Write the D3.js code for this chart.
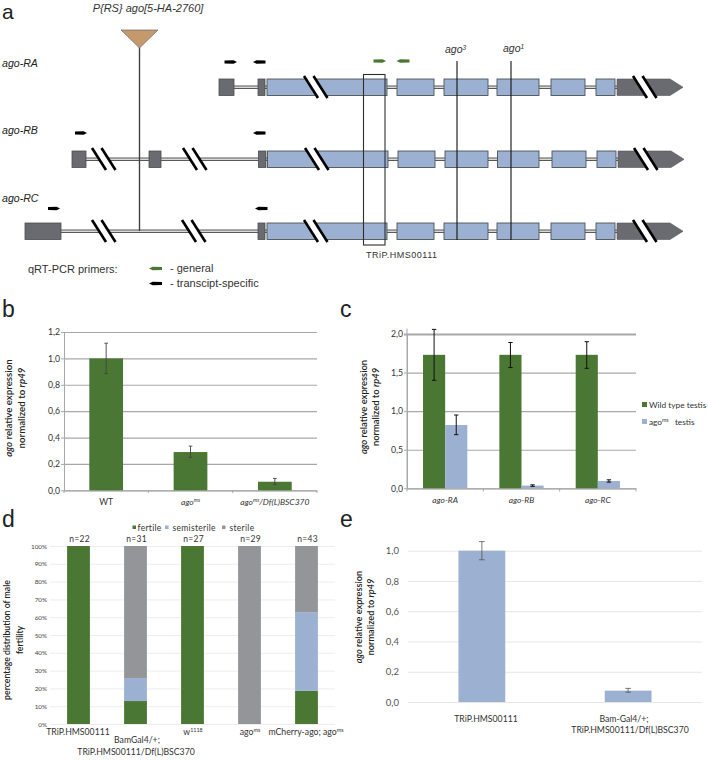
<!DOCTYPE html>
<html><head><meta charset="utf-8">
<script src="https://cdn.jsdelivr.net/npm/d3@7/dist/d3.min.js"></script>
<style>html,body{margin:0;padding:0;background:#fff}svg{display:block}text{font-family:Lato,"Open Sans",sans-serif}</style>
</head><body><svg id="c" width="708" height="760"></svg>
<script>
// ---------- data ----------
const green="#4a7834", blue="#9cb0d2", gray="#939598", exonGray="#6a6b70";
// gene model: exon extents along the diagram axis
const blueExonsA=[[267,387],[397,434],[444,488],[497,539],[551,585],[596,615]];
const blueExonsB=[[267.5,388],[398,435],[445,488],[497.5,539],[552,586],[597,616]];
const greyExonsA=[[219,234],[258,265]];
const greyExonsB=[[72,86],[149,161],[258.5,266]];
const greyExonsC=[[25,61],[258,265]];
const utrA=[617,670,683], utrB=[618,671,684];
const breaksA=[304,633], breaksB=[92,183,305,634], breaksC=[92,182,304,633];
const transcripts=["ago-RA","ago-RB","ago-RC"];
const ago3Pos=457, ago1Pos=511, insertPos=139.5, tripRange=[363.5,385];
const primersBlack=[[224.5,237,0,1],[253,265.5,0,-1],[75,87,1,1],[253,265.5,1,-1],[48,60,2,1],[255,267.5,2,-1]];
const primersGreen=[[373.5,386,1],[396.5,409.5,-1]];

const bCats=["WT","agoms","agoms/Df(L)BSC370"];
const bVals=[1.0,0.29,0.065], bHi=[1.115,0.335,0.09], bLo=[0.885,0.25,0.045];
const bTicks=[0,0.2,0.4,0.6,0.8,1.0,1.2];

const cCats=["ago-RA","ago-RB","ago-RC"];
const cWild=[1.73,1.73,1.73], cWildHi=[2.06,1.89,1.90], cWildLo=[1.40,1.565,1.555];
const cMs=[0.82,0.035,0.095], cMsHi=[0.95,0.045,0.11], cMsLo=[0.695,0.025,0.08];
const cTicks=[0,0.5,1.0,1.5,2.0];

const dCats=["TRiP.HMS00111","BamGal4/+","w1118","agoms","mCherry-ago"];
const dFertile=[100,12.9,100,0,18.6], dSemi=[0,12.9,0,0,44.2], dSterile=[0,74.2,0,100,37.2];
const dN=["n=22","n=31","n=27","n=29","n=43"];
const dTicks=[0,10,20,30,40,50,60,70,80,90,100];

const eCats=["TRiP.HMS00111","Bam-Gal4/+"];
const eVals=[1.0,0.075], eHi=[1.06,0.09], eLo=[0.94,0.065];
const eTicks=[0,0.2,0.4,0.6,0.8,1.0];

// ---------- helpers ----------
const svg=d3.select("#c");
const comma=d=>d3.format(".1f")(d).replace(".",",");
function rich(x,y,parts,o={}){
  const t=svg.append("text").attr("x",x).attr("y",y).attr("font-size",o.size||9).attr("fill",o.fill||"#333")
    .attr("text-anchor",o.anchor||"start").attr("font-weight",o.weight||null);
  if(o.rotate)t.attr("transform",`rotate(-90 ${x} ${y})`);
  if(o.family)t.attr("style",`font-family:${o.family}`);
  parts.forEach(p=>{
    const s=t.append("tspan").text(p.t);
    if(p.i||o.italic)s.attr("font-style","italic");
    if(p.sup)s.attr("baseline-shift","super").attr("font-size",(o.size||9)*0.62);
  });
  return t;
}
function letter(s,x,y,size){svg.append("text").attr("x",x).attr("y",y).attr("font-size",size).attr("fill","#222").style("font-family","Liberation Sans").text(s)}
function yTitle(x1,x2,cy,size,first){
  rich(x1,cy,first,{anchor:"middle",rotate:true,size,fill:"#222",weight:600});
  rich(x2,cy,[{t:"normalized to "},{t:"rp49",i:true}],{anchor:"middle",rotate:true,size,fill:"#222",weight:600});
}
function errs(g,xs,hi,lo,y,color,cap,w){
  xs.forEach((x,i)=>{
    const c=g.append("g").attr("stroke",color).attr("stroke-width",w);
    c.append("line").attr("x1",x).attr("x2",x).attr("y1",y(hi[i])).attr("y2",y(lo[i]));
    [hi[i],lo[i]].forEach(v=>c.append("line").attr("x1",x-cap).attr("x2",x+cap).attr("y1",y(v)).attr("y2",y(v)));
  });
}
function yAxis(x0,x1,y,ticks,fmt,opts){
  const g=svg.append("g").attr("transform",`translate(${x0},0)`)
   .call(d3.axisLeft(y).tickValues(ticks).tickFormat(fmt).tickSize(-(x1-x0)).tickPadding(opts.pad));
  g.select(".domain").attr("display",opts.domain?null:"none");
  if(opts.domain)g.select(".domain").attr("stroke",opts.grid);
  g.selectAll(".tick line").attr("stroke",opts.grid).attr("stroke-width",opts.gw);
  g.selectAll(".tick text").attr("font-size",opts.fs).attr("fill",opts.tc).style("font-family","Lato,sans-serif");
  if(opts.domain) g.selectAll(".tick").append("line").attr("x1",-3).attr("x2",0).attr("stroke",opts.grid);
  return g;
}

// ---------- panel a ----------
letter("a",2,19,21);
const gx=d3.scaleLinear().domain([0,708]).range([0,708]);
const rowTop=[79,151,223], exH=16.5;
const rowY=d3.scaleOrdinal().domain([0,1,2]).range(rowTop);
const ga=svg.append("g");
function intron(x1,x2,top){
  const m=top+exH/2;
  ga.append("line").attr("x1",gx(x1)).attr("x2",gx(x2)).attr("y1",m).attr("y2",m).attr("stroke","#58595b").attr("stroke-width",3.6);
  ga.append("line").attr("x1",gx(x1)).attr("x2",gx(x2)).attr("y1",m).attr("y2",m).attr("stroke","#d8d8d8").attr("stroke-width",1.3);
}
function slash(x,top){
  const t=top-3,b=top+exH+2.5,w=14,sep=9.5;
  ga.append("polygon").attr("points",[[gx(x),t],[gx(x)+sep,t],[gx(x)+sep+w,b],[gx(x)+w,b]].join(" ")).attr("fill","#fff");
  [0,sep].forEach(d=>ga.append("line").attr("x1",gx(x)+d).attr("x2",gx(x)+d+w).attr("y1",t).attr("y2",b).attr("stroke","#000").attr("stroke-width",2.6));
}
[[greyExonsA,blueExonsA,utrA,breaksA],[greyExonsB,blueExonsB,utrB,breaksB],[greyExonsC,blueExonsA,utrA,breaksC]].forEach((r,i)=>{
  const top=rowY(i), [gr,bl,u,br]=r;
  intron(gr[0][0],u[0],top);
  gr.forEach(e=>ga.append("rect").attr("x",gx(e[0])).attr("y",top).attr("width",gx(e[1])-gx(e[0])).attr("height",exH).attr("fill",exonGray).attr("stroke","#4d4d4f").attr("stroke-width",.8));
  bl.forEach(e=>ga.append("rect").attr("x",gx(e[0])).attr("y",top).attr("width",gx(e[1])-gx(e[0])).attr("height",exH).attr("fill",blue).attr("stroke","#4d5257").attr("stroke-width",.9));
  ga.append("polygon").attr("points",[[gx(u[0]),top],[gx(u[1]),top],[gx(u[2]),top+exH/2],[gx(u[1]),top+exH],[gx(u[0]),top+exH]].join(" ")).attr("fill",exonGray).attr("stroke","#55565a").attr("stroke-width",.6);
  br.forEach(x=>slash(x,top));
  svg.append("text").attr("x",2).attr("y",[67,134,202][i]).attr("font-size",10.6).attr("font-style","italic").attr("fill","#222").style("font-family","Liberation Sans").text(transcripts[i]);
});
// insertion
ga.append("line").attr("x1",gx(insertPos)).attr("x2",gx(insertPos)).attr("y1",46).attr("y2",231).attr("stroke","#3f4042").attr("stroke-width",1.4);
ga.append("polygon").attr("points",[[121,30],[158,30],[gx(insertPos),48]].join(" ")).attr("fill","#c49a6c").attr("stroke","#6b6b6b").attr("stroke-width",.7);
svg.append("text").attr("x",148).attr("y",12).attr("text-anchor","middle").attr("font-size",11).attr("font-style","italic").attr("fill","#333").style("font-family","Liberation Sans").text("P{RS} ago[5-HA-2760]");
// TRiP box and alleles
ga.append("rect").attr("x",gx(tripRange[0])).attr("y",74.5).attr("width",gx(tripRange[1])-gx(tripRange[0])).attr("height",170.5).attr("fill","none").attr("stroke","#2e2e2e").attr("stroke-width",1.1);
svg.append("text").attr("x",366).attr("y",258).attr("font-size",9).attr("fill","#333").style("font-family","Liberation Sans").attr("textLength",71).text("TRiP.HMS00111");
[ago3Pos,ago1Pos].forEach(x=>ga.append("line").attr("x1",gx(x)).attr("x2",gx(x)).attr("y1",61).attr("y2",240).attr("stroke","#111").attr("stroke-width",1.1));
rich(445,52.5,[{t:"ago",i:true},{t:"3",i:true,sup:true}],{size:10.5,family:"Liberation Sans"});
rich(503,51.5,[{t:"ago",i:true},{t:"1",i:true,sup:true}],{size:10.5,family:"Liberation Sans"});
// primers
function primer(x1,x2,y,dir,fill){
  const tip=dir>0?x2:x1, base=dir>0?x1:x2, sh=base+(tip-base)*.72;
  svg.append("polygon").attr("points",[[gx(base),y-1.6],[gx(sh),y-1.8],[gx(tip),y],[gx(sh),y+1.8],[gx(base),y+1.6]].join(" ")).attr("fill",fill);
}
const primerY=[62,133,208.5];
primersBlack.forEach(p=>primer(p[0],p[1],primerY[p[2]],p[3],"#000"));
primersGreen.forEach(p=>primer(p[0],p[1],61,p[2],green));
primer(149,162,268.5,-1,green); primer(149,162,283.5,-1,"#000");
const aLeg=(x,y,t)=>svg.append("text").attr("x",x).attr("y",y).attr("font-size",11).attr("fill","#333").style("font-family","Liberation Sans").text(t);
aLeg(28,273,"qRT-PCR primers:");
aLeg(170,272,"- general");
aLeg(170,287,"- transcipt-specific");

// ---------- panel b ----------
letter("b",2,317,23);
{
  const x=d3.scaleBand().domain(bCats).range([64,317]).paddingInner(.6).paddingOuter(.3);
  const y=d3.scaleLinear().domain([0,1.2]).range([490.3,332]);
  yAxis(64,317,y,bTicks,comma,{pad:4,grid:"#a8a8a8",gw:1.2,fs:8.7,tc:"#333",domain:true});
  svg.append("g").selectAll("rect").data(bCats).join("rect").attr("x",d=>x(d)).attr("width",x.bandwidth())
    .attr("y",(d,i)=>y(bVals[i])).attr("height",(d,i)=>y(0)-y(bVals[i])).attr("fill",green);
  x.domain().forEach((d,i)=>svg.append("line").attr("x1",64+i*x.step()).attr("x2",64+i*x.step()).attr("y1",490).attr("y2",493).attr("stroke","#a8a8a8"));
  svg.append("line").attr("x1",317).attr("x2",317).attr("y1",490).attr("y2",493).attr("stroke","#a8a8a8");
  errs(svg.append("g"),bCats.map(d=>x(d)+x.bandwidth()/2),bHi,bLo,y,"#444",1.8,.9);
  const cx=bCats.map(d=>x(d)+x.bandwidth()/2);
  svg.append("text").attr("x",cx[0]).attr("y",505).attr("text-anchor","middle").attr("font-size",8.5).attr("fill","#333").text(bCats[0]);
  rich(cx[1],505,[{t:"ago",i:true},{t:"ms",i:true,sup:true}],{anchor:"middle",size:8.5});
  rich(cx[2],505,[{t:"ago",i:true},{t:"ms",i:true,sup:true},{t:"/Df(L)BSC370",i:true}],{anchor:"middle",size:8.5});
  yTitle(12,25,408,9.7,[{t:"ago",i:true},{t:" relative expression"}]);
}

// ---------- panel c ----------
letter("c",340,317,23);
{
  const x=d3.scaleBand().domain(cCats).range([407,636]).paddingInner(.42).paddingOuter(.21);
  const inner=d3.scaleBand().domain(["wild","ms"]).range([0,x.bandwidth()]);
  const y=d3.scaleLinear().domain([0,2]).range([488.3,334]);
  const ax=yAxis(407,636,y,cTicks,comma,{pad:4,grid:"#a8a8a8",gw:1.2,fs:8.7,tc:"#333",domain:true});
  svg.append("line").attr("x1",407).attr("x2",407).attr("y1",y(0)).attr("y2",y(2.07)).attr("stroke","#a8a8a8");
  ax.selectAll(".tick line").filter(d=>d===2).attr("stroke-width",2);
  const g=svg.append("g");
  g.selectAll(".w").data(cCats).join("rect").attr("x",d=>x(d)+inner("wild")).attr("width",inner.bandwidth()).attr("y",(d,i)=>y(cWild[i])).attr("height",(d,i)=>y(0)-y(cWild[i])).attr("fill",green);
  g.selectAll(".m").data(cCats).join("rect").attr("x",d=>x(d)+inner("ms")).attr("width",inner.bandwidth()).attr("y",(d,i)=>y(cMs[i])).attr("height",(d,i)=>y(0)-y(cMs[i])).attr("fill",blue);
  [0,1,2,3].forEach(i=>svg.append("line").attr("x1",407+i*x.step()).attr("x2",407+i*x.step()).attr("y1",488).attr("y2",491.5).attr("stroke","#a8a8a8"));
  errs(g,cCats.map(d=>x(d)+inner("wild")+inner.bandwidth()/2),cWildHi,cWildLo,y,"#111",2.2,1);
  errs(g,cCats.map(d=>x(d)+inner("ms")+inner.bandwidth()/2),cMsHi,cMsLo,y,"#111",2.2,1);
  cCats.forEach(d=>svg.append("text").attr("x",x(d)+x.bandwidth()/2).attr("y",503).attr("text-anchor","middle").attr("font-size",8.4).attr("font-style","italic").attr("fill","#333").text(d));
  yTitle(367,379,407,9.4,[{t:"ago",i:true},{t:" relative expression"}]);
  svg.append("rect").attr("x",642).attr("y",402).attr("width",5).attr("height",5).attr("fill",green);
  svg.append("text").attr("x",649).attr("y",408).attr("font-size",8.3).attr("fill","#333").text("Wild type testis");
  svg.append("rect").attr("x",642).attr("y",419).attr("width",5).attr("height",5).attr("fill",blue);
  rich(649,425,[{t:"ago"},{t:"ms",sup:true},{t:"\u00a0\u00a0 testis"}],{size:8.3});
}

// ---------- panel d ----------
letter("d",2,527,23);
{
  const x=d3.scaleBand().domain(dCats).range([50,335]).paddingInner(.6).paddingOuter(.3);
  const y=d3.scaleLinear().domain([0,100]).range([724,546]);
  yAxis(50,335,y,dTicks,d=>d+"%",{pad:3,grid:"#e9e9e9",gw:.8,fs:6.3,tc:"#444",domain:false});
  const stack=d3.stack().keys(["f","s","t"])(dCats.map((c,i)=>({c,f:dFertile[i],s:dSemi[i],t:dSterile[i]})));
  const cols=[green,blue,gray];
  stack.forEach((l,k)=>svg.append("g").selectAll("rect").data(l).join("rect").attr("x",d=>x(d.data.c)).attr("width",x.bandwidth())
    .attr("y",d=>y(d[1])).attr("height",d=>y(d[0])-y(d[1])).attr("fill",cols[k]));
  dCats.forEach((c,i)=>svg.append("text").attr("x",x(c)+x.bandwidth()/2+1).attr("y",542).attr("text-anchor","middle").attr("font-size",8.5).attr("fill","#333").attr("letter-spacing",.3).text(dN[i]));
  [[132.5,137.5,"fertile",green],[165,172.5,"semisterile",blue],[222,229.5,"sterile",gray]].forEach(l=>{
    svg.append("rect").attr("x",l[0]).attr("y",525.5).attr("width",3.5).attr("height",3.5).attr("fill",l[3]);
    svg.append("text").attr("x",l[1]).attr("y",531).attr("font-size",8.5).attr("fill","#333").attr("letter-spacing",.3).text(l[2]);
  });
  const lab={size:8.7,anchor:"middle"};
  rich(78,735,[{t:"TRiP.HMS00111"}],lab);
  rich(137,743,[{t:"BamGal4/+;"}],lab);
  rich(136,755,[{t:"TRiP.HMS00111/Df(L)BSC370"}],lab);
  rich(193,735,[{t:"w"},{t:"1118",sup:true}],lab);
  rich(250,735,[{t:"ago"},{t:"ms",sup:true}],lab);
  rich(306,735,[{t:"mCherry-ago; ago"},{t:"ms",sup:true}],lab);
  rich(10,640,[{t:"percentage distribution of  male"}],{anchor:"middle",rotate:true,size:8.7,fill:"#222",weight:600});
  rich(23,640,[{t:"fertility"}],{anchor:"middle",rotate:true,size:8.7,fill:"#222",weight:600});
}

// ---------- panel e ----------
letter("e",340,527,23);
{
  const x=d3.scaleBand().domain(eCats).range([408,702]).paddingInner(.68).paddingOuter(.345);
  const y=d3.scaleLinear().domain([0,1]).range([702,550.7]);
  yAxis(408,702,y,eTicks,comma,{pad:9,grid:"#e6e6e6",gw:1,fs:9.5,tc:"#555",domain:false});
  svg.append("g").selectAll("rect").data(eCats).join("rect").attr("x",d=>x(d)).attr("width",x.bandwidth())
    .attr("y",(d,i)=>y(eVals[i])).attr("height",(d,i)=>y(0)-y(eVals[i])).attr("fill",blue);
  errs(svg.append("g"),eCats.map(d=>x(d)+x.bandwidth()/2),eHi,eLo,y,"#555",2.8,.8);
  const lab={size:8.7,anchor:"middle"};
  rich(486,722,[{t:"TRiP.HMS00111"}],lab);
  rich(624,722,[{t:"Bam-Gal4/+;"}],lab);
  rich(630,733,[{t:"TRiP.HMS00111/Df(L)BSC370"}],lab);
  yTitle(362,374,617,9.2,[{t:"ago",i:true},{t:" relative expression"}]);
}
</script></body></html>
